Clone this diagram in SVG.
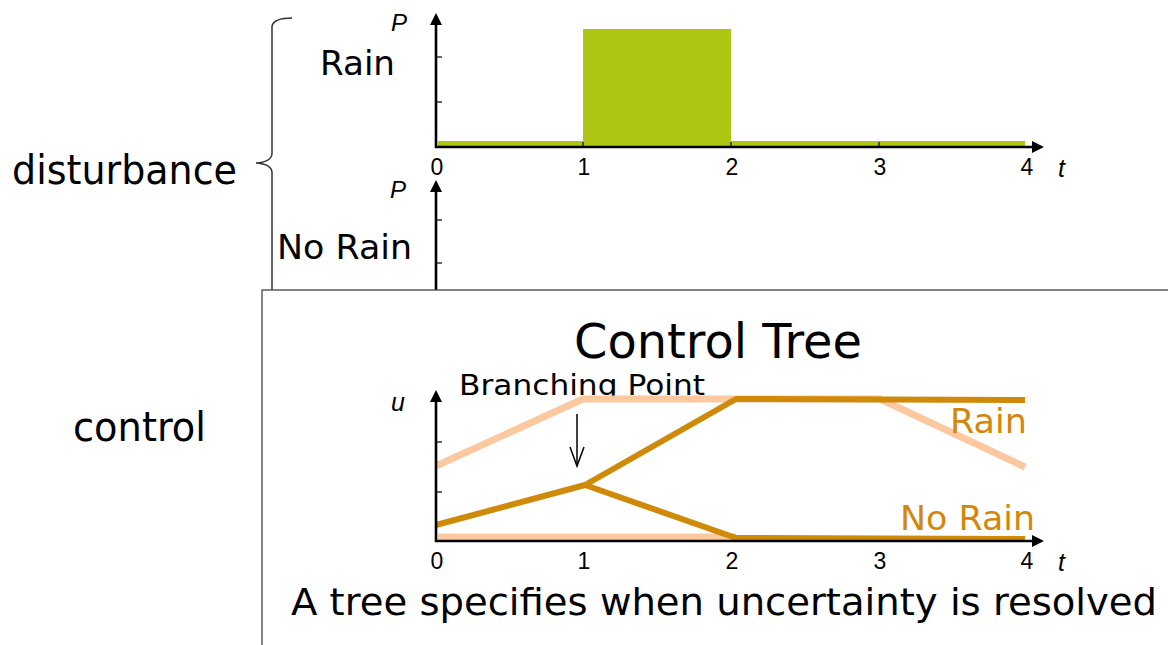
<svg xmlns="http://www.w3.org/2000/svg" width="1168" height="645" viewBox="0 0 1168 645">
<style>
.big{font-family:"DejaVu Sans",Verdana,sans-serif;fill:#000}
.num{font-family:"Liberation Sans",Arial,sans-serif;text-anchor:middle;fill:#000}
.it{font-family:"Liberation Sans",Arial,sans-serif;font-style:italic;fill:#000}
.ax{stroke:#000;stroke-width:2.6;fill:none}
.tk{stroke:#000;stroke-width:1.2}
.org{fill:#D4870A}
.lt{stroke:#FBC8A0;stroke-width:7;fill:none;stroke-linejoin:round}
.dk{stroke:#D08A0A;stroke-width:6;fill:none;stroke-linejoin:round}
</style>
<defs>
<marker id="ah" viewBox="0 0 10 10" refX="0" refY="5" markerWidth="12" markerHeight="12" markerUnits="userSpaceOnUse" orient="auto"><path d="M0,0 L10,5 L0,10 Z" fill="#000"/></marker>
</defs>
<rect width="1168" height="645" fill="#fff"/>
<g id="labels-left">
<text class="big" x="12" y="184" font-size="40" textLength="225" lengthAdjust="spacingAndGlyphs">disturbance</text>
<text class="big" x="73" y="441" font-size="40" textLength="133" lengthAdjust="spacingAndGlyphs">control</text>
</g>
<g id="brace">
<path d="M292,18 Q274,18 272,26 L272,154 Q271,162 256,163 Q271,164 272,172 L272,292" fill="none" stroke="#333" stroke-width="1.5"/>
</g>
<g id="rain-chart" font-size="23">
<text class="big" x="320" y="75" font-size="34" textLength="75" lengthAdjust="spacingAndGlyphs">Rain</text>
<text class="it" x="391" y="31" font-size="24">P</text>
<rect x="583" y="29" width="148" height="119" fill="#AEC612"/>
<rect x="438" y="141" width="587" height="7" fill="#AEC612"/>
<line class="ax" x1="436" y1="148" x2="436" y2="25" marker-end="url(#ah)"/>
<line class="ax" x1="435" y1="147" x2="1032" y2="147" marker-end="url(#ah)"/>
<line class="tk" x1="436" y1="57" x2="442" y2="57"/>
<line class="tk" x1="436" y1="102" x2="442" y2="102"/>
<line class="tk" x1="583" y1="142" x2="583" y2="147"/>
<line class="tk" x1="731" y1="142" x2="731" y2="147"/>
<line class="tk" x1="879" y1="142" x2="879" y2="147"/>
<text class="num" x="437" y="175" font-size="23">0</text>
<text class="num" x="584" y="175" font-size="23">1</text>
<text class="num" x="732" y="175" font-size="23">2</text>
<text class="num" x="880" y="175" font-size="23">3</text>
<text class="num" x="1027" y="175" font-size="23">4</text>
<text class="it" x="1058" y="177" font-size="25">t</text>
</g>
<g id="norain-chart">
<text class="it" x="390" y="198" font-size="24">P</text>
<text class="big" x="277" y="259" font-size="34" textLength="135" lengthAdjust="spacingAndGlyphs">No Rain</text>
<line class="ax" x1="436" y1="292" x2="436" y2="192" marker-end="url(#ah)"/>
<line class="tk" x1="436" y1="220" x2="442" y2="220"/>
<line class="tk" x1="436" y1="263" x2="442" y2="263"/>
</g>
<g id="control-tree">
<rect x="262" y="290" width="920" height="370" fill="#fff" stroke="#444" stroke-width="1.3"/>
<text class="big" x="574" y="358" font-size="48" textLength="288" lengthAdjust="spacingAndGlyphs">Control Tree</text>
<text class="big" x="459" y="395" font-size="28" textLength="246" lengthAdjust="spacingAndGlyphs">Branching Point</text>
<text class="it" x="391" y="411" font-size="25">u</text>
<polyline class="lt" points="436,466 583,399 880,399 1025,467"/>
<polyline class="lt" points="438,537 736,537"/>
<polyline class="dk" points="436,525 585,485 736,399 1025,400"/>
<polyline class="dk" points="585,485 736,538 1025,539"/>
<line class="ax" x1="436" y1="542" x2="436" y2="402" marker-end="url(#ah)"/>
<line class="ax" x1="435" y1="541" x2="1032" y2="541" marker-end="url(#ah)"/>
<line class="tk" x1="436" y1="442" x2="442" y2="442"/>
<line class="tk" x1="436" y1="492" x2="442" y2="492"/>
<line stroke="#000" stroke-width="1.5" x1="577" y1="414" x2="577" y2="465"/>
<polyline points="570,447 577,466 584,447" fill="none" stroke="#000" stroke-width="1.5"/>
<text class="big org" x="950" y="433" font-size="34" textLength="77" lengthAdjust="spacingAndGlyphs">Rain</text>
<text class="big org" x="900" y="530" font-size="34" textLength="135" lengthAdjust="spacingAndGlyphs">No Rain</text>
<text class="num" x="437" y="569" font-size="23">0</text>
<text class="num" x="584" y="569" font-size="23">1</text>
<text class="num" x="732" y="569" font-size="23">2</text>
<text class="num" x="880" y="569" font-size="23">3</text>
<text class="num" x="1027" y="569" font-size="23">4</text>
<text class="it" x="1058" y="571" font-size="25">t</text>
<text class="big" x="291" y="615" font-size="38" textLength="866" lengthAdjust="spacingAndGlyphs">A tree specifies when uncertainty is resolved</text>
</g>
</svg>
